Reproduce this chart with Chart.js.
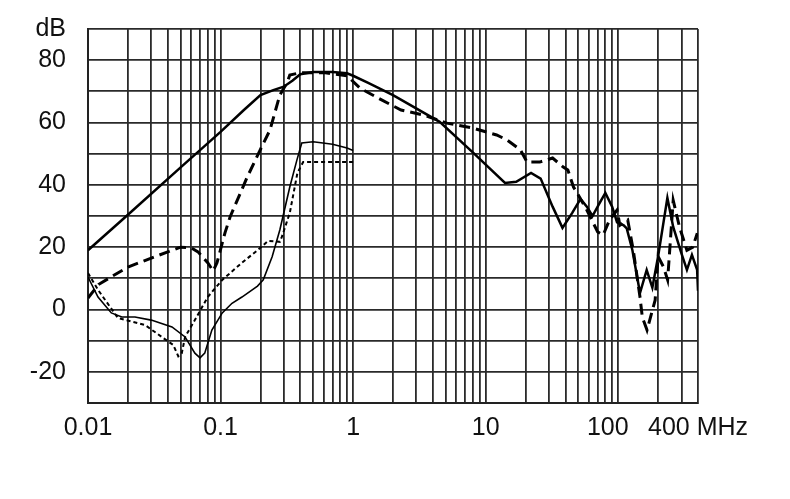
<!DOCTYPE html>
<html>
<head>
<meta charset="utf-8">
<script src="https://cdn.jsdelivr.net/npm/chart.js@4.4.1/dist/chart.umd.min.js"></script>
<style>
  body { margin: 0; background: #fff; }
  #wrap { width: 790px; height: 499px; position: relative; }
</style>
</head>
<body>
<div id="wrap"><canvas id="dataChart"></canvas></div>
<script>
// Frequency (MHz) and level (dB), one pair of arrays per curve
const thickSolidFreq = [0.01, 0.02, 0.05, 0.1, 0.15, 0.2, 0.25, 0.3, 0.35, 0.4, 0.5, 0.7, 0.9, 1.0, 1.3, 2, 4.5, 8, 14, 17, 22, 26, 32, 38, 45, 52, 58, 64, 72, 80, 90, 98, 110, 116, 128, 146, 164, 181, 200, 235, 260, 300, 330, 360, 394, 400];
const thickSolidDb   = [19, 30.4, 45.6, 57, 64, 68.8, 70.4, 71.5, 73.5, 75.5, 76.2, 76.2, 75.8, 75, 72.7, 68.8, 60.2, 50.4, 40.6, 41, 43.8, 42, 33, 26.2, 31, 35.5, 33, 30, 34, 37.4, 33, 28, 27, 26, 19, 5.3, 12.7, 7, 17, 35.8, 26.5, 18, 12.7, 17.5, 12.7, 6];

const thickDashFreq = [0.01, 0.012, 0.015, 0.02, 0.03, 0.04, 0.05, 0.06, 0.0676, 0.08, 0.088, 0.094, 0.108, 0.118, 0.159, 0.198, 0.236, 0.28, 0.317, 0.333, 0.4, 0.6, 0.9, 1.13, 1.6, 2.3, 3.4, 5.1, 8, 12.1, 14.5, 18.3, 20.5, 25.6, 32, 38.5, 41.7, 46, 49, 58, 70, 77, 86, 98, 103, 118, 130, 146, 152, 165, 190, 200, 220, 236, 260, 290, 330, 365, 395];
const thickDashDb   = [3.7, 8, 10.5, 13.6, 16.5, 18.5, 20, 19.8, 18.5, 15, 12.4, 15, 24.6, 29.7, 42.5, 51, 57.6, 68.8, 72.7, 75.2, 76, 76, 75, 71, 67.5, 64, 62.4, 59.8, 58.2, 56, 54.4, 51.2, 47.3, 47.3, 48.6, 45.7, 44.8, 39.3, 37.4, 31.9, 24.9, 23.9, 28.7, 31.9, 27, 28.7, 19, 4, -2.4, -6.6, 3, 17, 13.6, 9.5, 35, 26.5, 19, 20, 24.5];

const thinSolidFreq = [0.01, 0.0119, 0.015, 0.018, 0.0226, 0.03, 0.043, 0.054, 0.064, 0.07, 0.076, 0.086, 0.103, 0.122, 0.145, 0.19, 0.21, 0.245, 0.28, 0.333, 0.377, 0.41, 0.5, 0.7, 0.9, 1.0];
const thinSolidDb   = [10.4, 4, -1.1, -2.4, -2.4, -3.4, -5.6, -8.8, -14, -15.5, -14, -6.6, -1.1, 2, 4, 7.5, 9.5, 16.9, 25.5, 39.3, 48, 53.4, 53.8, 53, 51.8, 51];

const thinDotFreq = [0.01, 0.0119, 0.0168, 0.027, 0.036, 0.044, 0.048, 0.051, 0.054, 0.064, 0.08, 0.103, 0.145, 0.19, 0.228, 0.28, 0.29, 0.333, 0.38, 0.42, 0.5, 1.0];
const thinDotDb   = [11.7, 6.3, -2.7, -5, -8.8, -11.4, -15, -14, -8.8, -3.4, 4, 9.5, 15, 19, 22, 21.7, 23.3, 31, 43.8, 47.3, 47.3, 47.3];

// Axis ticks
const xGridTicks = [0.01, 0.02, 0.03, 0.04, 0.05, 0.06, 0.07, 0.08, 0.09,
                    0.1, 0.2, 0.3, 0.4, 0.5, 0.6, 0.7, 0.8, 0.9,
                    1, 2, 3, 4, 5, 6, 7, 8, 9,
                    10, 20, 30, 40, 50, 60, 70, 80, 90,
                    100, 200, 300, 400];
const xLabelValues = [0.01, 0.1, 1, 10, 100, 400];
// trailing no-break spaces nudge "100" left, as in the original
const xLabelTexts  = ["0.01", "0.1", "1", "10", "100\u00a0\u00a0\u00a0", "400 MHz"];
const yGridTicks   = [-30, -20, -10, 0, 10, 20, 30, 40, 50, 60, 70, 80, 90];
const yLabelValues = [90, 80, 60, 40, 20, 0, -20];
const yLabelTexts  = ["dB", "80", "60", "40", "20", "0", "-20"];

function toPoints(freqs, levels) {
    return freqs.map((f, i) => ({ x: f, y: levels[i] }));
}

const labelFont = { family: "'Liberation Sans', Arial, sans-serif", size: 25 };
const gridStyle = { color: "#2a2a2a", lineWidth: 1.8, drawTicks: false };

const dataChart = new Chart(document.getElementById("dataChart"), {
    type: "line",
    data: {
        datasets: [
            { data: toPoints(thickSolidFreq, thickSolidDb), borderColor: "#000", borderWidth: 2.5 },
            { data: toPoints(thickDashFreq, thickDashDb), borderColor: "#000", borderWidth: 3, borderDash: [11, 6] },
            { data: toPoints(thinSolidFreq, thinSolidDb), borderColor: "#000", borderWidth: 1.6 },
            { data: toPoints(thinDotFreq, thinDotDb), borderColor: "#000", borderWidth: 2, borderDash: [4, 3] }
        ]
    },
    options: {
        responsive: true,
        maintainAspectRatio: false,
        animation: false,
        elements: { point: { radius: 0 }, line: { tension: 0, fill: false } },
        layout: { padding: { left: 0, right: 92, top: 29, bottom: 0 } },
        plugins: { legend: { display: false }, tooltip: { enabled: false } },
        scales: {
            x: {
                type: "logarithmic",
                min: 0.01,
                max: 400,
                afterBuildTicks: (scale) => {
                    scale.ticks = xGridTicks.map(v => ({ value: v }));
                },
                afterFit: (scale) => { scale.height = 96; },
                grid: gridStyle,
                border: { color: "#222", width: 2 },
                ticks: {
                    autoSkip: false,
                    maxRotation: 0,
                    padding: 10,
                    color: "#111",
                    font: labelFont,
                    callback: (value) => {
                        const i = xLabelValues.indexOf(value);
                        return i >= 0 ? xLabelTexts[i] : "";
                    }
                }
            },
            y: {
                min: -30,
                max: 90,
                afterBuildTicks: (scale) => {
                    scale.ticks = yGridTicks.map(v => ({ value: v }));
                },
                afterFit: (scale) => {
                    scale.width = 88;
                    scale.paddingTop = 10;
                    scale.paddingBottom = 10;
                },
                grid: gridStyle,
                border: { color: "#222", width: 2 },
                ticks: {
                    autoSkip: false,
                    padding: 22,
                    color: "#111",
                    font: labelFont,
                    callback: (value) => {
                        const i = yLabelValues.indexOf(value);
                        return i >= 0 ? yLabelTexts[i] : "";
                    }
                }
            }
        }
    }
});
</script>
</body>
</html>
